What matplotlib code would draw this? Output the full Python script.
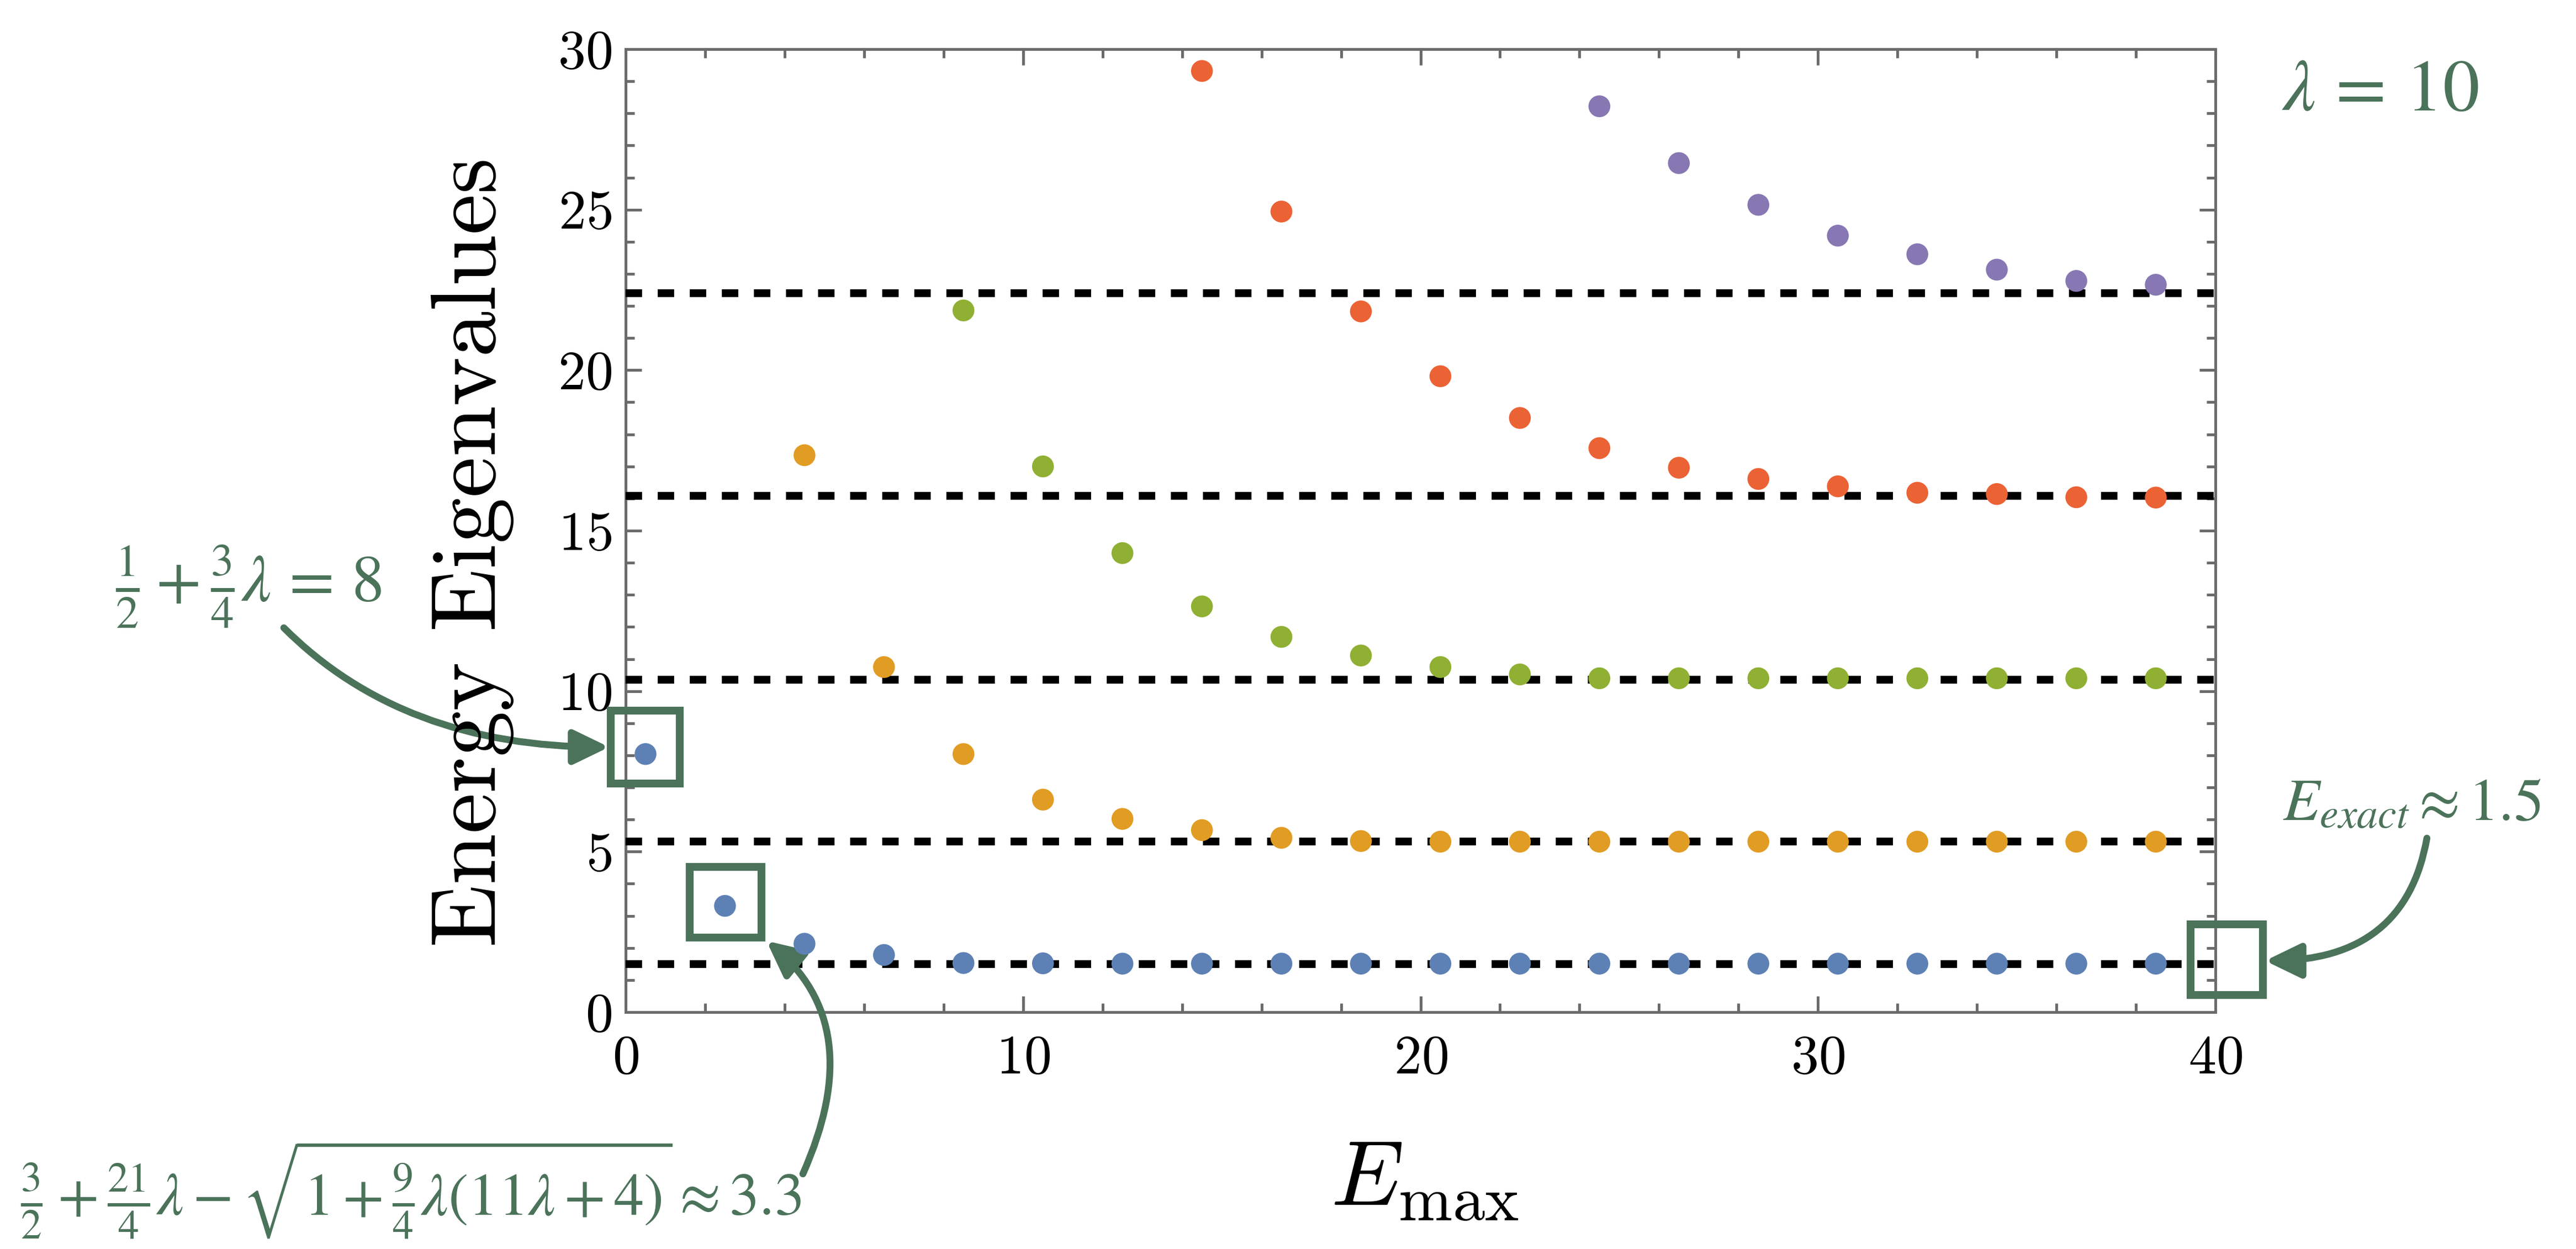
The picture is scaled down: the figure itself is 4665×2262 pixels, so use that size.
import numpy as np
import matplotlib
matplotlib.use("Agg")
import matplotlib.pyplot as plt
from matplotlib.patches import Rectangle

plt.rcParams['font.family'] = 'serif'
plt.rcParams['font.serif'] = ['cmr10', 'DejaVu Serif']
plt.rcParams['mathtext.fontset'] = 'cm'
plt.rcParams['axes.formatter.use_mathtext'] = True

# Данные: собственные значения энергии при разных E_max (lambda = 10)
x_lvl0 = [0.5, 2.5, 4.5, 6.5, 8.5, 10.5, 12.5, 14.5, 16.5, 18.5,
          20.5, 22.5, 24.5, 26.5, 28.5, 30.5, 32.5, 34.5, 36.5, 38.5]
y_lvl0 = [8.04, 3.31, 2.13, 1.78, 1.53, 1.52, 1.51, 1.51, 1.51, 1.51,
          1.51, 1.51, 1.51, 1.51, 1.51, 1.51, 1.51, 1.51, 1.51, 1.51]

x_lvl1 = x_lvl0[2:]
y_lvl1 = [17.35, 10.75, 8.04, 6.62, 6.02, 5.67, 5.43, 5.33, 5.31,
          5.31, 5.31, 5.31, 5.31, 5.31, 5.31, 5.31, 5.31, 5.31]

x_lvl2 = x_lvl0[4:]
y_lvl2 = [21.86, 17.0, 14.30, 12.64, 11.69, 11.11, 10.75, 10.52,
          10.40, 10.40, 10.40, 10.40, 10.40, 10.40, 10.40, 10.40]

x_lvl3 = x_lvl0[7:]
y_lvl3 = [29.32, 24.94, 21.83, 19.81, 18.51, 17.57, 16.96, 16.61,
          16.38, 16.18, 16.14, 16.04, 16.03]

x_lvl4 = x_lvl0[12:]
y_lvl4 = [28.22, 26.45, 25.15, 24.19, 23.61, 23.13, 22.78, 22.66]

exact_levels = [1.50, 5.31, 10.36, 16.09, 22.40]

colors = ['#5E81B5', '#E19C24', '#8FB032', '#EB6235', '#8778B3']
green = '#4B735A'

W, H = 4665, 2262
fig = plt.figure(figsize=(W / 300, H / 300), dpi=300)

# позиция осей в пикселях
L, R, T, B = 1133, 4012, 89, 1833
ax = fig.add_axes([L / W, 1 - B / H, (R - L) / W, (B - T) / H])

# точные уровни - пунктир
for lv in exact_levels:
    ax.plot([0, 40], [lv, lv], color='black', lw=3.4,
            linestyle=(0, (2.1, 2.0)), dash_capstyle='butt', zorder=3)

series = [(x_lvl0, y_lvl0), (x_lvl1, y_lvl1), (x_lvl2, y_lvl2),
          (x_lvl3, y_lvl3), (x_lvl4, y_lvl4)]
for (xs, ys), c in zip(series, colors):
    ax.scatter(xs, ys, s=90, color=c, edgecolors='none', zorder=4)

ax.set_xlim(0, 40)
ax.set_ylim(0, 30)
ax.set_xticks(np.arange(0, 41, 10))
ax.set_xticks(np.arange(0, 41, 2), minor=True)
ax.set_yticks(np.arange(0, 31, 5))
ax.set_yticks(np.arange(0, 31, 1), minor=True)

for s in ax.spines.values():
    s.set_color('#6b6b6b')
    s.set_linewidth(1.2)
ax.tick_params(which='both', direction='in', top=True, right=True,
               color='#6b6b6b', width=1.2, labelsize=24, labelcolor='black')
ax.tick_params(which='major', length=7)
ax.tick_params(which='minor', length=3.8)
ax.tick_params(axis='x', pad=10)
ax.tick_params(axis='y', pad=6)

def fx(px):
    return px / W

def fy(py):
    return 1 - py / H

fig.text(fx(856), fy(1000), 'Energy Eigenvalues', rotation=90,
         ha='center', va='center', fontsize=40)
fig.text(fx(2580), fy(2140), r'$E_{\max}$', ha='center', va='center',
         fontsize=40)

# аннотации
fig.text(fx(4310), fy(167), r'$\lambda\,=\,10$', ha='center', va='center',
         fontsize=32, color=green, math_fontfamily='stix')
fig.text(fx(450), fy(1062), r'$\frac{1}{2}+\frac{3}{4}\lambda\,=\,8$',
         ha='center', va='center', fontsize=28.5, color=green,
         math_fontfamily='stix')
fig.text(fx(744), fy(2155),
         r'$\frac{3}{2}+\frac{21}{4}\lambda-\sqrt{1+\frac{9}{4}\lambda(11\lambda+4)}\approx 3.3$',
         ha='center', va='center', fontsize=26, color=green,
         math_fontfamily='stix')
fig.text(fx(4368), fy(1458), r'$E_{exact}\approx 1.5$',
         ha='center', va='center', fontsize=26, color=green,
         math_fontfamily='stix')

boxes = [(-0.38, 7.13, 1.74, 2.26), (1.61, 2.32, 1.81, 2.2),
         (39.38, 0.53, 1.82, 2.2)]
for bx, by, bw, bh in boxes:
    ax.add_patch(Rectangle((bx, by), bw, bh, fill=False, edgecolor=green,
                           lw=3.4, clip_on=False, zorder=5))

sx = (R - L) / 40.0
sy = (B - T) / 30.0

def d(px, py):
    return ((px - L) / sx, (B - py) / sy)

arrows = [
    (d(514, 1137), d(1103, 1353), "angle3,angleA=-45,angleB=0"),
    (d(1454, 2126), d(1388, 1704), "angle3,angleA=66,angleB=141"),
    (d(4395, 1518), d(4102, 1740), "angle3,angleA=-100,angleB=180"),
]
for tail, tip, cs in arrows:
    ax.annotate('', xy=tip, xytext=tail, xycoords='data',
                textcoords='data', annotation_clip=False,
                arrowprops=dict(arrowstyle='-|>,head_length=1.3,head_width=0.63',
                                mutation_scale=10, color=green, lw=3,
                                shrinkA=0, shrinkB=0, connectionstyle=cs))

fig.savefig('out.png', dpi=300)
